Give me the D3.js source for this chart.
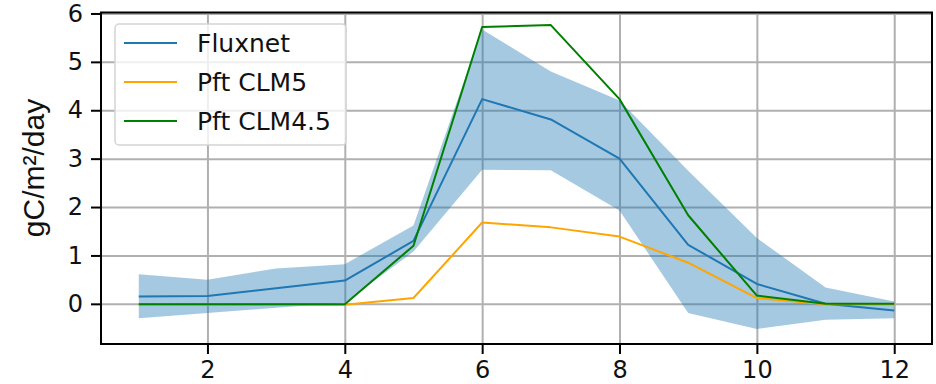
<!DOCTYPE html>
<html>
<head>
<meta charset="utf-8">
<script src="https://cdn.jsdelivr.net/npm/d3@7"></script>
<style>
  body { margin: 0; background: #fff; }
  svg { display: block; }
</style>
</head>
<body>
<div class="chart"></div>
<script>
// monthly values
const months = [1, 2, 3, 4, 5, 6, 7, 8, 9, 10, 11, 12];
const fluxMean = [0.15, 0.16, 0.32, 0.48, 1.3, 4.23, 3.81, 3.0, 1.22, 0.41, 0.0, -0.14];
const fluxHigh = [0.61, 0.5, 0.73, 0.82, 1.62, 5.67, 4.8, 4.2, 2.75, 1.36, 0.34, 0.05];
const fluxLow = [-0.3, -0.19, -0.08, 0.02, 1.08, 2.77, 2.76, 1.93, -0.19, -0.52, -0.33, -0.3];
const clm5 = [-0.02, -0.02, -0.02, -0.02, 0.12, 1.68, 1.58, 1.39, 0.85, 0.12, -0.01, -0.01];
const clm45 = [-0.01, -0.01, -0.01, -0.01, 1.2, 5.72, 5.76, 4.23, 1.83, 0.17, 0.0, 0.0];

const xTicks = [2, 4, 6, 8, 10, 12];
const yTicks = [0, 1, 2, 3, 4, 5, 6];
const seriesNames = ["Fluxnet", "Pft CLM5", "Pft CLM4.5"];
const seriesColors = ["#1f77b4", "#ffa500", "#008000"];

const W = 936, H = 384;
const margin = { left: 101, right: 932, top: 12.5, bottom: 344 };

const svg = d3.select(".chart").append("svg")
  .attr("width", W)
  .attr("height", H);

const x = d3.scaleLinear().domain([0.45, 12.55]).range([margin.left, margin.right]);
const y = d3.scaleLinear().domain([-0.83, 6.02]).range([margin.bottom, margin.top]);
const plotW = margin.right - margin.left, plotH = margin.bottom - margin.top;

svg.append("defs").append("clipPath").attr("id", "clip")
  .append("rect")
  .attr("x", margin.left).attr("y", margin.top)
  .attr("width", plotW).attr("height", plotH);

// grid
svg.append("g")
  .attr("transform", `translate(0,${margin.bottom})`)
  .call(d3.axisBottom(x).tickValues(xTicks).tickSize(-plotH).tickFormat(""))
  .call(g => g.select(".domain").remove())
  .call(g => g.selectAll("line").attr("stroke", "#b0b0b0").attr("stroke-width", 2));

svg.append("g")
  .attr("transform", `translate(${margin.left},0)`)
  .call(d3.axisLeft(y).tickValues(yTicks).tickSize(-plotW).tickFormat(""))
  .call(g => g.select(".domain").remove())
  .call(g => g.selectAll("line").attr("stroke", "#b0b0b0").attr("stroke-width", 2));

const plot = svg.append("g").attr("clip-path", "url(#clip)");

// shaded range
const area = d3.area()
  .x((d, i) => x(months[i]))
  .y0((d, i) => y(fluxLow[i]))
  .y1((d, i) => y(fluxHigh[i]));

plot.append("path")
  .datum(months)
  .attr("d", area)
  .attr("fill", "#1f77b4")
  .attr("fill-opacity", 0.4);

const line = d3.line().x((d, i) => x(months[i])).y(d => y(d));

[fluxMean, clm5, clm45].forEach((vals, k) => {
  plot.append("path")
    .datum(vals)
    .attr("d", line)
    .attr("fill", "none")
    .attr("stroke", seriesColors[k])
    .attr("stroke-width", 2)
    .attr("stroke-linejoin", "round");
});

// axes
const xAxis = svg.append("g")
  .attr("transform", `translate(0,${margin.bottom})`)
  .call(d3.axisBottom(x).tickValues(xTicks).tickSize(10).tickPadding(7).tickFormat(d3.format("d")));

const yAxis = svg.append("g")
  .attr("transform", `translate(${margin.left},0)`)
  .call(d3.axisLeft(y).tickValues(yTicks).tickSize(10).tickPadding(8).tickFormat(d3.format("d")));

[xAxis, yAxis].forEach(g => {
  g.select(".domain").remove();
  g.selectAll("line").attr("stroke", "#000").attr("stroke-width", 2);
  g.selectAll("text")
    .attr("fill", "#111")
    .style("font-family", "'DejaVu Sans', sans-serif")
    .style("font-size", "24px");
});

// frame
svg.append("rect")
  .attr("x", margin.left).attr("y", margin.top)
  .attr("width", plotW).attr("height", plotH)
  .attr("fill", "none")
  .attr("stroke", "#000")
  .attr("stroke-width", 2);

// y label
svg.append("text")
  .attr("transform", "translate(44,168) rotate(-90)")
  .attr("text-anchor", "middle")
  .style("font-family", "'Liberation Sans', Arial, sans-serif")
  .style("font-size", "30px")
  .attr("fill", "#111")
  .text("gC/m²/day");

// legend
const legend = svg.append("g");
legend.append("rect")
  .attr("x", 115).attr("y", 24)
  .attr("width", 231).attr("height", 121)
  .attr("rx", 4)
  .attr("fill", "#fff")
  .attr("fill-opacity", 0.8)
  .attr("stroke", "#d4d4d4")
  .attr("stroke-width", 1.5);

const rowY = [43, 82, 121];
seriesNames.forEach((name, i) => {
  legend.append("line")
    .attr("x1", 124).attr("x2", 177)
    .attr("y1", rowY[i]).attr("y2", rowY[i])
    .attr("stroke", seriesColors[i])
    .attr("stroke-width", 2);
  legend.append("text")
    .attr("x", 197).attr("y", rowY[i])
    .attr("dy", "0.36em")
    .attr("fill", "#111")
    .style("font-family", "'DejaVu Sans', sans-serif")
    .style("font-size", "25px")
    .text(name);
});
</script>
</body>
</html>
